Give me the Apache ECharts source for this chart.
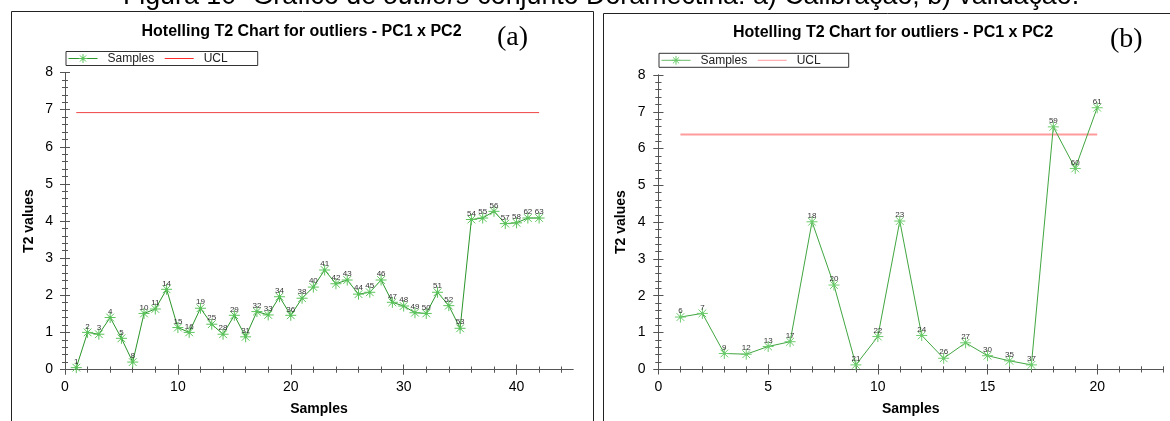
<!DOCTYPE html>
<html>
<head>
<meta charset="utf-8">
<script src="https://cdn.jsdelivr.net/npm/echarts@6/dist/echarts.min.js"></script>
<style>
  html, body { margin: 0; padding: 0; background: #fff; }
  #chart { width: 1170px; height: 421px; }
</style>
</head>
<body>
<div id="chart"></div>
<script>
// Calibration set (a): sample ids and Hotelling T2 values
const calIds = [1, 2, 3, 4, 5, 8, 10, 11, 14, 15, 16, 19, 25, 28, 29, 31, 32, 33, 34, 36, 38,
                40, 41, 42, 43, 44, 45, 46, 47, 48, 49, 50, 51, 52, 53, 54, 55, 56, 57, 58, 62, 63];
const calT2 = [0.05, 1.00, 0.95, 1.40, 0.84, 0.20, 1.51, 1.63, 2.16, 1.13, 1.00, 1.65, 1.22, 0.95,
               1.46, 0.88, 1.56, 1.47, 1.96, 1.46, 1.92, 2.22, 2.68, 2.31, 2.41, 2.03, 2.08, 2.41,
               1.81, 1.71, 1.53, 1.51, 2.08, 1.72, 1.11, 4.04, 4.08, 4.26, 3.93, 3.95, 4.08, 4.08];
const calUCL = 6.92;

// Validation set (b)
const valIds = [6, 7, 9, 12, 13, 17, 18, 20, 21, 22, 23, 24, 26, 27, 30, 35, 37, 59, 60, 61];
const valT2 = [1.42, 1.52, 0.43, 0.41, 0.62, 0.75, 4.01, 2.29, 0.12, 0.89, 4.03, 0.92, 0.30,
               0.72, 0.37, 0.23, 0.12, 6.59, 5.46, 7.11];
const valUCL = 6.38;

// Axis ranges and tick labels
const yMax = 8;
const calXMax = 45;
const calXLabels = [0, 10, 20, 30, 40];
const valXMax = 23;
const valXLabels = [0, 5, 10, 15, 20];

const chartTitle = 'Hotelling T2 Chart for outliers - PC1 x PC2';
const legendNames = ['Samples', 'UCL'];

const SANS = '"Liberation Sans", Arial, Helvetica, sans-serif';
const SERIF = '"Liberation Serif", "Times New Roman", serif';
const AXIS = '#555';

// Asterisk marker with a small dark centre
const STAR = 'path://M5,0V10M0,5H10M1.5,1.5L8.5,8.5M1.5,8.5L8.5,1.5M4.2,4.2H5.8V5.8H4.2Z';

function steps(from, to, step) {
  const out = [];
  for (let i = 0; from + i * step <= to + 1e-9; i++) out.push(+(from + i * step).toFixed(4));
  return out;
}

const panels = [
  {
    grid: { left: 65, top: 72.5, width: 508, height: 297 },
    ids: calIds, t2: calT2, ucl: calUCL,
    xMax: calXMax, xLabels: calXLabels, xMinorStep: 2,
    yLabelMargin: 12, yNameGap: 29,
    title: { left: 141.5, top: 23.5 },
    tag: { text: '(a)', x: 497, y: 38 },
    legend: { left: 66, top: 51.5, padRight: 30 },
    line: '#2b962b', starLine: '#5cc45c', dot: '#0a640a',
    uclColor: '#f04545', uclWidth: 1,
    legendLine: '#2b962b', legendUcl: '#ff2a2a'
  },
  {
    grid: { left: 658.5, top: 75, width: 504.5, height: 294.3 },
    ids: valIds, t2: valT2, ucl: valUCL,
    xMax: valXMax, xLabels: valXLabels, xMinorStep: 1,
    yLabelMargin: 13, yNameGap: 30,
    title: { left: 733, top: 24.5 },
    tag: { text: '(b)', x: 1110, y: 40 },
    legend: { left: 659, top: 53.3, padRight: 28 },
    line: '#41a641', starLine: '#6dcc6d', dot: '#0a640a',
    uclColor: '#ff9b9b', uclWidth: 2,
    legendLine: '#6cba6c', legendUcl: '#ff9b9b'
  }
];

const grid = [], xAxis = [], yAxis = [], series = [], legend = [], title = [], graphic = [];

panels.forEach((p, gi) => {
  grid.push(Object.assign({ outerBoundsMode: 'none', containLabel: false }, p.grid));
  const xMajors = p.xLabels;
  const xMinors = steps(0, p.xMax, p.xMinorStep);
  const yMajors = steps(0, yMax, 1);
  const yMinors = steps(0, yMax, 0.2);
  const base = { gridIndex: gi, type: 'value', splitLine: { show: false }, axisPointer: { show: false } };
  const xb = xAxis.length;
  // bottom axis with labels and name
  xAxis.push(Object.assign({}, base, {
    position: 'bottom', min: 0, max: p.xMax,
    axisLine: { show: true, lineStyle: { color: AXIS, width: 1 } },
    axisTick: { show: false },
    axisLabel: { customValues: xMajors, margin: 11, color: '#000', fontSize: 14, fontFamily: SANS },
    name: 'Samples', nameLocation: 'middle', nameGap: 33,
    nameTextStyle: { color: '#000', fontSize: 14, fontWeight: 'bold', fontFamily: SANS }
  }));
  // crossing major / minor ticks on the bottom axis
  xAxis.push(Object.assign({}, base, {
    position: 'bottom', offset: -5, min: 0, max: p.xMax,
    axisLine: { show: false }, axisLabel: { show: false },
    axisTick: { show: true, customValues: xMajors, length: 10, lineStyle: { color: AXIS } }
  }));
  xAxis.push(Object.assign({}, base, {
    position: 'bottom', offset: -3, min: 0, max: p.xMax,
    axisLine: { show: false }, axisLabel: { show: false },
    axisTick: { show: true, customValues: xMinors, length: 6, lineStyle: { color: AXIS } }
  }));
  // top frame with inward ticks
  xAxis.push(Object.assign({}, base, {
    position: 'top', min: 0, max: p.xMax,
    axisLine: { show: true, lineStyle: { color: AXIS } }, axisLabel: { show: false },
    axisTick: { show: true, inside: true, customValues: xMajors, length: 5, lineStyle: { color: AXIS } }
  }));
  xAxis.push(Object.assign({}, base, {
    position: 'top', min: 0, max: p.xMax,
    axisLine: { show: false }, axisLabel: { show: false },
    axisTick: { show: true, inside: true, customValues: xMinors, length: 3, lineStyle: { color: AXIS } }
  }));

  const yl = yAxis.length;
  yAxis.push(Object.assign({}, base, {
    position: 'left', min: 0, max: yMax, interval: 1,
    axisLine: { show: true, lineStyle: { color: AXIS } },
    axisTick: { show: false },
    axisLabel: { margin: p.yLabelMargin, color: '#000', fontSize: 14, fontFamily: SANS },
    name: 'T2 values', nameLocation: 'middle', nameGap: p.yNameGap,
    nameTextStyle: { color: '#000', fontSize: 14, fontWeight: 'bold', fontFamily: SANS }
  }));
  yAxis.push(Object.assign({}, base, {
    position: 'left', offset: -5, min: 0, max: yMax, interval: 1,
    axisLine: { show: false }, axisLabel: { show: false },
    axisTick: { show: true, customValues: yMajors, length: 10, lineStyle: { color: AXIS } }
  }));
  yAxis.push(Object.assign({}, base, {
    position: 'left', offset: -3, min: 0, max: yMax, interval: 1,
    axisLine: { show: false }, axisLabel: { show: false },
    axisTick: { show: true, customValues: yMinors, length: 6, lineStyle: { color: AXIS } }
  }));
  yAxis.push(Object.assign({}, base, {
    position: 'right', min: 0, max: yMax, interval: 1,
    axisLine: { show: true, lineStyle: { color: AXIS } }, axisLabel: { show: false },
    axisTick: { show: true, inside: true, customValues: yMajors, length: 5, lineStyle: { color: AXIS } }
  }));
  yAxis.push(Object.assign({}, base, {
    position: 'right', min: 0, max: yMax, interval: 1,
    axisLine: { show: false }, axisLabel: { show: false },
    axisTick: { show: true, inside: true, customValues: yMinors, length: 3, lineStyle: { color: AXIS } }
  }));

  series.push({
    name: legendNames[0], type: 'line', xAxisIndex: xb, yAxisIndex: yl,
    data: p.t2.map((v, i) => [i + 1, v]),
    symbol: STAR, symbolSize: 11, showAllSymbol: true,
    itemStyle: { color: p.dot, borderColor: p.starLine, borderWidth: 1 },
    lineStyle: { color: p.line, width: 1 },
    label: {
      show: true, position: 'top', distance: -4, fontSize: 8, color: '#333', fontFamily: SANS,
      formatter: (d) => String(p.ids[d.dataIndex])
    },
    emphasis: { disabled: true }, z: 3, animation: false
  });
  series.push({
    name: legendNames[1], type: 'line', xAxisIndex: xb, yAxisIndex: yl,
    data: [[1, p.ucl], [p.ids.length, p.ucl]],
    symbol: 'none', lineStyle: { color: p.uclColor, width: p.uclWidth },
    emphasis: { disabled: true }, z: 2, animation: false
  });

  legend.push({
    left: p.legend.left, top: p.legend.top, orient: 'horizontal',
    padding: [1, p.legend.padRight, 1, 2], itemGap: 10, itemWidth: 29, itemHeight: 11,
    borderColor: '#333', borderWidth: 1, backgroundColor: '#fff', selectedMode: false,
    textStyle: { fontSize: 12, color: '#222', fontFamily: SANS, padding: [0, 0, 0, 5] },
    data: [
      { name: legendNames[0], itemStyle: { color: p.dot, borderColor: p.starLine, borderWidth: 1 },
        lineStyle: { color: p.legendLine, width: 1 } },
      { name: legendNames[1], itemStyle: { color: 'rgba(0,0,0,0)', borderWidth: 0, opacity: 0 },
        lineStyle: { color: p.legendUcl, width: 1, opacity: 1 } }
    ]
  });

  title.push({
    text: chartTitle, left: p.title.left, top: p.title.top, padding: 0,
    textStyle: { fontSize: 16, fontWeight: 'bold', color: '#000', fontFamily: SANS }
  });

  graphic.push({
    type: 'text', x: p.tag.x, y: p.tag.y, silent: true,
    style: { text: p.tag.text, font: '28px ' + SERIF, fill: '#000', verticalAlign: 'middle', align: 'left' }
  });
});

// panel frames
graphic.push({
  type: 'rect', silent: true, z: -1,
  shape: { x: 11.5, y: 11.5, width: 582, height: 500 },
  style: { fill: 'none', stroke: '#222', lineWidth: 1 }
});
graphic.push({
  type: 'rect', silent: true, z: -1,
  shape: { x: 603.5, y: 13.5, width: 700, height: 500 },
  style: { fill: 'none', stroke: '#222', lineWidth: 1 }
});
// figure caption
graphic.push({
  type: 'text', x: 601, y: -3.8, silent: true,
  style: {
    text: '{n|Figura 10- Gráfico de }{i|outliers}{n| conjunto Doramectina: a) Calibração; b) validação.}',
    align: 'center', verticalAlign: 'middle',
    rich: {
      n: { fontSize: 26.8, fontFamily: SANS, fill: '#000' },
      i: { fontSize: 26.8, fontFamily: SANS, fontStyle: 'italic', fill: '#000' }
    }
  }
});

const chart = echarts.init(document.getElementById('chart'), null, { renderer: 'canvas' });
chart.setOption({
  backgroundColor: '#fff',
  animation: false,
  title, legend, grid, xAxis, yAxis, series, graphic,
  tooltip: { show: false }
});
</script>
</body>
</html>
